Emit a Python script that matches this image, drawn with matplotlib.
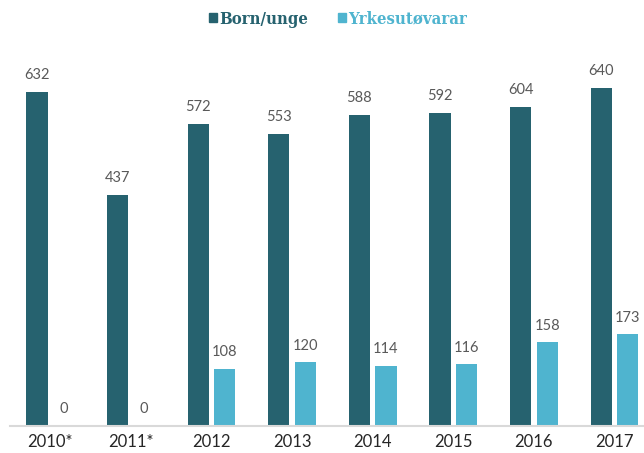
import numpy as np
import matplotlib.pyplot as plt
from matplotlib.patches import Rectangle

years = ['2010*', '2011*', '2012', '2013', '2014', '2015', '2016', '2017']
born_unge = [632, 437, 572, 553, 588, 592, 604, 640]
yrkesutovarar = [0, 0, 108, 120, 114, 116, 158, 173]

dark = '#26626F'
light = '#4FB4CF'

fig = plt.figure(figsize=(6.44, 4.53), dpi=100)
ax = fig.add_axes([10 / 644, 27.3 / 453, 634 / 644, 386 / 453])

x = np.arange(len(years))
w = 0.265
b1 = ax.bar(x - 0.165, born_unge, w, color=dark)
b2 = ax.bar(x + 0.165, yrkesutovarar, w, color=light)

for bars, vals in [(b1, born_unge), (b2, yrkesutovarar)]:
    for r, v in zip(bars, vals):
        ax.annotate(str(v), (r.get_x() + r.get_width() / 2, v),
                    xytext=(0, 7), textcoords='offset points',
                    ha='center', va='bottom', fontsize=10.5,
                    color='#595959', family='Lato')

ax.set_xlim(-0.5, 7.366)
ax.set_ylim(0, 731)
ax.set_xticks(x)
ax.set_xticklabels(years, fontsize=12, color='#262626', family='Lato')
ax.tick_params(axis='x', length=0, pad=6)
ax.set_yticks([])
for s in ['top', 'right', 'left']:
    ax.spines[s].set_visible(False)
ax.spines['bottom'].set_color('#D9D9D9')
ax.spines['bottom'].set_linewidth(1.5)

handles = [Rectangle((0, 0), 1, 1, color=dark), Rectangle((0, 0), 1, 1, color=light)]
leg = fig.legend(handles, ['Born/unge', 'Yrkesutøvarar'], loc='center',
                 bbox_to_anchor=(338 / 644, 1 - 19 / 453), ncol=2, frameon=False,
                 handlelength=0.45, handleheight=0.45, handletextpad=0.15,
                 columnspacing=1.8,
                 prop={'family': 'DejaVu Serif', 'size': 12, 'weight': 'bold',
                       'stretch': 'condensed'})
for t, c in zip(leg.get_texts(), [dark, light]):
    t.set_color(c)

plt.savefig('out.png', dpi=100)
